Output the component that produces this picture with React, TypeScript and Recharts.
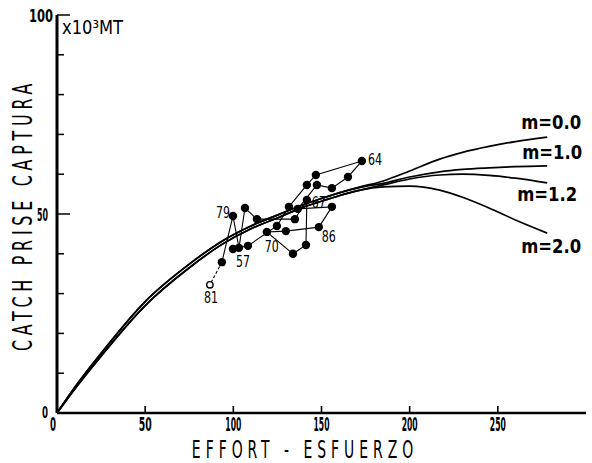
import React from 'react';
import { ComposedChart, Line, XAxis, YAxis } from 'recharts';

// Production-model curves (effort, catch in 10^3 MT)
const curveEffort = [0, 10, 25, 50, 75, 94, 110, 126, 140, 150, 160, 172, 185, 200, 217, 230, 245, 260, 278];
const catchM00 = [0, 6.4, 15.0, 28.0, 37.4, 43.3, 47.0, 49.9, 52.4, 53.9, 55.3, 56.8, 58.3, 60.8, 63.8, 65.5, 67.0, 68.2, 69.3];
const catchM10 = [0, 6.4, 15.0, 28.0, 37.4, 43.3, 47.0, 49.9, 52.4, 53.9, 55.3, 56.7, 57.7, 59.3, 60.6, 61.2, 61.6, 61.9, 62.1];
const catchM12 = [0, 6.0, 14.3, 27.0, 36.5, 42.5, 46.3, 49.2, 51.8, 53.2, 54.6, 56.0, 57.3, 58.8, 59.8, 60.0, 59.7, 59.0, 57.8];
const catchM20 = [0, 6.0, 14.3, 27.0, 36.5, 42.5, 46.3, 49.2, 51.8, 53.2, 54.6, 56.0, 56.8, 57.0, 56.0, 54.2, 51.5, 48.5, 45.2];
const curveNames = ['m=0.0', 'm=1.0', 'm=1.2', 'm=2.0'];

// Observed effort / catch sequence
const obsEffort = [99.8, 108.3, 124.7, 131.5, 141.7, 146.8, 172.9, 165.0, 155.9, 147.4, 136.6, 155.9, 148.5, 129.8, 119.0, 133.8, 141.2, 141.7, 134.9, 113.4, 106.6, 103.2, 99.8, 93.5, 86.7];
const obsCatch = [41.2, 42.0, 47.0, 51.8, 57.3, 59.8, 63.3, 59.3, 56.5, 57.3, 51.3, 51.8, 46.7, 45.7, 45.5, 40.0, 42.2, 53.5, 48.7, 48.7, 51.5, 41.5, 49.5, 37.9, 32.2];
const obsLabels = ['57', '', '', '', '', '', '64', '', '', '', '', '', '86', '', '70', '', '', '67', '', '', '', '', '79', '', '81'];

const xTicks = [0, 50, 100, 150, 200, 250];
const yTicks = [0, 10, 20, 30, 40, 50, 60, 70, 80, 90, 100];

const FONT = "'Liberation Sans Narrow', 'DejaVu Sans Condensed', 'Liberation Sans', Arial, sans-serif";

const mk = (ys: number[]) => curveEffort.map((e, i) => ({ e, c: ys[i] }));
const curves = [mk(catchM00), mk(catchM10), mk(catchM12), mk(catchM20)];

const solidObs = obsEffort.slice(0, obsEffort.length - 1).map((e, i) => ({ e, c: obsCatch[i], lab: obsLabels[i] }));
const n = obsEffort.length;
const dashedObs = [n - 2, n - 1].map((i) => ({ e: obsEffort[i], c: obsCatch[i], lab: obsLabels[i] }));

const labelOffsets: Record<string, [number, number, string]> = {
  '57': [3, 18, 'start'],
  '64': [6, 4, 'start'],
  '86': [3, 15, 'start'],
  '70': [-2, 20, 'start'],
  '67': [5, 8, 'start'],
  '79': [-3, 2, 'end'],
  '81': [1, 18, 'middle'],
};

const curveLabelOffsets: Record<string, [number, number]> = {
  'm=0.0': [-26, -8],
  'm=1.0': [-25, -7],
  'm=1.2': [-30, 18],
  'm=2.0': [-26, 20],
};

const PointLabel = ({ cx, cy, lab }: any) => {
  if (!lab) return null;
  const o = labelOffsets[lab] || [4, 4, 'start'];
  return (
    <text x={cx + o[0]} y={cy + o[1]} textAnchor={o[2] as any} fontFamily={FONT} fontSize={16}
      textLength={14} lengthAdjust="spacingAndGlyphs" fill="#000">{lab}</text>
  );
};

const SolidDot = (props: any) => {
  const { cx, cy, payload, index } = props;
  return (
    <g key={`sd${index}`}>
      <circle cx={cx} cy={cy} r={4.2} fill="#000" stroke="none" />
      <PointLabel cx={cx} cy={cy} lab={payload.lab} />
    </g>
  );
};

const DashedDot = (props: any) => {
  const { cx, cy, payload, index } = props;
  if (index === 0) return <g key={`dd${index}`} />;
  return (
    <g key={`dd${index}`}>
      <circle cx={cx} cy={cy} r={3.2} fill="#fff" stroke="#000" strokeWidth={1.4} />
      <PointLabel cx={cx} cy={cy} lab={payload.lab} />
    </g>
  );
};

const XTick = ({ x, y, payload }: any) => {
  const v = payload.value;
  const s = String(v);
  const w = s.length === 1 ? 6 : s.length === 2 ? 13 : 16;
  return (
    <g>
      {v !== 0 && <line x1={x} x2={x} y1={y} y2={y - 7} stroke="#000" strokeWidth={1.6} />}
      <text x={v === 0 ? x - 4 : x} y={y + 18} textAnchor="middle" fontFamily={FONT} fontWeight="bold"
        fontSize={19} textLength={w} lengthAdjust="spacingAndGlyphs" fill="#000">{s}</text>
    </g>
  );
};

const YTick = ({ x, y, payload }: any) => {
  const v = payload.value;
  const major = v % 50 === 0;
  const cfg: Record<number, [number, number, number]> = {
    0: [-9, 5, 6],
    50: [-9, 7, 11],
    100: [-4, 7, 24],
  };
  const c = cfg[v];
  return (
    <g>
      {v !== 0 && <line x1={x} x2={x + (major ? 13 : 7)} y1={y} y2={y} stroke="#000" strokeWidth={1.5} />}
      {major && c && (
        <text x={x + c[0]} y={y + c[1]} textAnchor="end" fontFamily={FONT} fontWeight="bold"
          fontSize={v === 0 ? 15 : 18} textLength={c[2]} lengthAdjust="spacingAndGlyphs" fill="#000">{v}</text>
      )}
    </g>
  );
};

const makeCurveLabel = (name: string, last: number) => (p: any) => {
  if (p.index !== last) return null;
  const o = curveLabelOffsets[name];
  return (
    <text key={name} x={p.x + o[0]} y={p.y + o[1]} fontFamily={FONT} fontWeight="bold" fontSize={19}
      textLength={60} lengthAdjust="spacingAndGlyphs" fill="#000">{name}</text>
  );
};

const YTitle = () => (
  <g>
    <g transform="translate(23 215) rotate(-90) scale(0.62 1)">
      <text x={0} y={0} textAnchor="middle" dominantBaseline="central"
        fontFamily={FONT} fontSize={26} letterSpacing={7} textLength={439} lengthAdjust="spacingAndGlyphs" fill="#000">
        CATCH PRISE CAPTURA
      </text>
    </g>
    <text x={62} y={34} fontFamily={FONT} fontSize={19} textLength={61} lengthAdjust="spacingAndGlyphs" fill="#000">
      x10³MT
    </text>
  </g>
);

const XTitle = () => (
  <g transform="translate(305 458) scale(0.62 1)">
    <text x={0} y={0} textAnchor="middle" fontFamily={FONT} fontSize={25} letterSpacing={8} textLength={365}
      lengthAdjust="spacingAndGlyphs" fill="#000">
      EFFORT - ESFUERZO
    </text>
  </g>
);

export default function App() {
  return (
    <div style={{ position: 'absolute', left: 0, top: 0, width: 592, height: 463, background: '#fff' }}>
      <ComposedChart width={592} height={463} margin={{ top: 15, right: 6, bottom: 0, left: 0 }}>
        <XAxis dataKey="e" type="number" domain={[0, 300]} ticks={xTicks} allowDataOverflow
          height={50} tickSize={0} tickMargin={0} tickLine={false} interval={0}
          axisLine={{ stroke: '#000', strokeWidth: 2.6 }} tick={<XTick />} label={{ content: () => <XTitle /> } as any} />
        <YAxis dataKey="c" type="number" domain={[0, 100]} ticks={yTicks} allowDataOverflow
          width={57} tickSize={0} tickMargin={0} tickLine={false} interval={0}
          axisLine={{ stroke: '#000', strokeWidth: 3 }} tick={<YTick />} label={{ content: () => <YTitle /> } as any} />
        {curves.map((d, i) => (
          <Line key={curveNames[i]} data={d} dataKey="c" type="monotone" stroke="#000" strokeWidth={1.7}
            dot={false} activeDot={false} isAnimationActive={false}
            label={makeCurveLabel(curveNames[i], d.length - 1) as any} />
        ))}
        <Line data={solidObs} dataKey="c" type="linear" stroke="#000" strokeWidth={1.1}
          dot={(p: any) => <SolidDot {...p} />} activeDot={false} isAnimationActive={false} />
        <Line data={dashedObs} dataKey="c" type="linear" stroke="#000" strokeWidth={1.1} strokeDasharray="3 2"
          dot={(p: any) => <DashedDot {...p} />} activeDot={false} isAnimationActive={false} />
      </ComposedChart>
    </div>
  );
}
